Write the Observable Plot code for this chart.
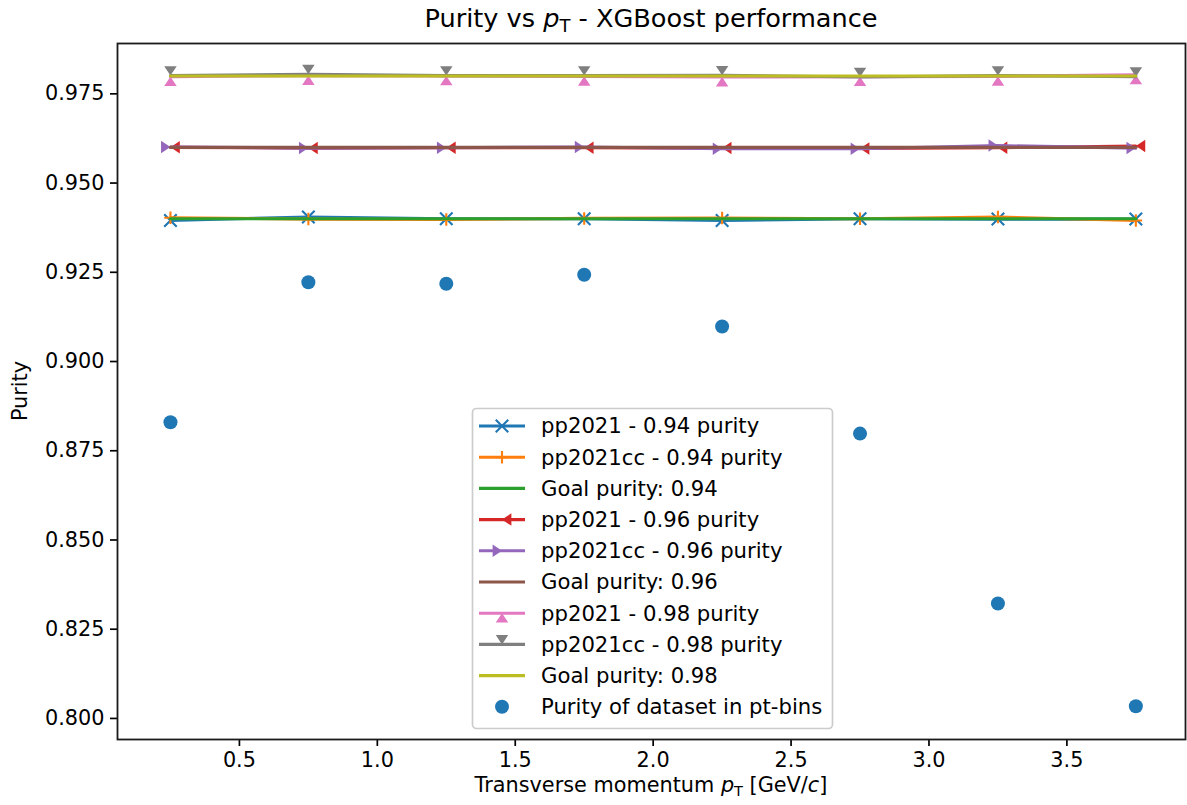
<!DOCTYPE html>
<html>
<head>
<meta charset="utf-8">
<script src="https://cdn.jsdelivr.net/npm/d3@7"></script>
<script src="https://cdn.jsdelivr.net/npm/@observablehq/plot@0.6"></script>
<style>
  html, body { margin: 0; padding: 0; background: #fff; }
  #wrap { position: relative; width: 1187px; height: 805px; font-family: "DejaVu Sans", sans-serif; color: #000; }
  #wrap svg.plot { position: absolute; left: 0; top: 0; }
  .title { position: absolute; left: 117px; width: 1068px; top: 3px; text-align: center; font-size: 25.6px; white-space: nowrap; }
  .xlabel { position: absolute; left: 117px; width: 1068px; top: 773px; text-align: center; font-size: 20.8px; white-space: nowrap; }
  .ylabel { position: absolute; left: 20px; top: 391px; transform: translate(-50%, -50%) rotate(-90deg); font-size: 20.8px; white-space: nowrap; }
  sub { font-size: 0.7em; vertical-align: -0.3em; font-style: normal; }
  #legend { position: absolute; left: 0; top: 0; pointer-events: none; }
</style>
</head>
<body>
<div id="wrap">
  <div class="title">Purity vs <i>p</i><sub>T</sub> - XGBoost performance</div>
  <div class="xlabel">Transverse momentum <i>p</i><sub>T</sub> [GeV/<i>c</i>]</div>
  <div class="ylabel">Purity</div>
</div>
<script>
// ---------- data ----------
const pT = [0.25, 0.75, 1.25, 1.75, 2.25, 2.75, 3.25, 3.75];
const pp2021_094   = [0.9395, 0.9405, 0.9400, 0.9400, 0.9395, 0.9400, 0.9399, 0.9399];
const pp2021cc_094 = [0.9403, 0.9399, 0.9398, 0.9401, 0.9402, 0.9400, 0.9405, 0.9395];
const goal_094     = [0.94, 0.94, 0.94, 0.94, 0.94, 0.94, 0.94, 0.94];
const pp2021_096   = [0.9600, 0.9598, 0.9599, 0.9599, 0.9598, 0.9597, 0.9599, 0.9604];
const pp2021cc_096 = [0.9601, 0.9598, 0.9599, 0.9601, 0.9596, 0.9596, 0.9605, 0.9598];
const goal_096     = [0.96, 0.96, 0.96, 0.96, 0.96, 0.96, 0.96, 0.96];
const pp2021_098   = [0.9798, 0.9801, 0.9800, 0.9799, 0.9797, 0.9798, 0.9799, 0.9803];
const pp2021cc_098 = [0.9801, 0.9805, 0.9801, 0.9801, 0.9802, 0.9797, 0.9801, 0.9798];
const goal_098     = [0.98, 0.98, 0.98, 0.98, 0.98, 0.98, 0.98, 0.98];
const datasetPurity = [0.8830, 0.9222, 0.9218, 0.9243, 0.9098, 0.8798, 0.8322, 0.8034];

const seriesNames = [
  "pp2021 - 0.94 purity", "pp2021cc - 0.94 purity", "Goal purity: 0.94",
  "pp2021 - 0.96 purity", "pp2021cc - 0.96 purity", "Goal purity: 0.96",
  "pp2021 - 0.98 purity", "pp2021cc - 0.98 purity", "Goal purity: 0.98"
];
const scatterName = "Purity of dataset in pt-bins";
const seriesColors = ["#1f77b4", "#ff7f0e", "#2ca02c", "#d62728", "#9467bd", "#8c564b", "#e377c2", "#7f7f7f", "#bcbd22"];
const seriesMarkers = ["x", "plus", null, "caretleft", "caretright", null, "caretup", "caretdown", null];
const seriesValues = [pp2021_094, pp2021cc_094, goal_094, pp2021_096, pp2021cc_096, goal_096, pp2021_098, pp2021cc_098, goal_098];
const xTicks = [0.5, 1.0, 1.5, 2.0, 2.5, 3.0, 3.5];
const yTicks = [0.800, 0.825, 0.850, 0.875, 0.900, 0.925, 0.950, 0.975];

// ---------- custom marker symbols (matplotlib-like) ----------
const rOf = size => Math.sqrt(size / Math.PI);
const symbols = {
  x: { draw(c, s) { const r = rOf(s); c.moveTo(-r, -r); c.lineTo(r, r); c.moveTo(-r, r); c.lineTo(r, -r); } },
  plus: { draw(c, s) { const r = rOf(s); c.moveTo(-r, 0); c.lineTo(r, 0); c.moveTo(0, -r); c.lineTo(0, r); } },
  caretup: { draw(c, s) { const r = rOf(s); c.moveTo(0, 0); c.lineTo(r, 1.5 * r); c.lineTo(-r, 1.5 * r); c.closePath(); } },
  caretdown: { draw(c, s) { const r = rOf(s); c.moveTo(0, 0); c.lineTo(r, -1.5 * r); c.lineTo(-r, -1.5 * r); c.closePath(); } },
  caretleft: { draw(c, s) { const r = rOf(s); c.moveTo(0, 0); c.lineTo(1.5 * r, -r); c.lineTo(1.5 * r, r); c.closePath(); } },
  caretright: { draw(c, s) { const r = rOf(s); c.moveTo(0, 0); c.lineTo(-1.5 * r, -r); c.lineTo(-1.5 * r, r); c.closePath(); } }
};
const strokeMarkers = new Set(["x", "plus"]);

// ---------- build marks ----------
const LW = 3.1, MR = 6.25;
const marks = [];
seriesValues.forEach((vals, i) => {
  const rows = pT.map((x, j) => ({x, y: vals[j]}));
  marks.push(Plot.line(rows, {x: "x", y: "y", stroke: seriesColors[i], strokeWidth: LW}));
  const m = seriesMarkers[i];
  if (m) {
    if (strokeMarkers.has(m)) {
      marks.push(Plot.dot(rows, {x: "x", y: "y", symbol: symbols[m], r: MR, stroke: seriesColors[i], strokeWidth: 2.1, fill: "none"}));
    } else {
      marks.push(Plot.dot(rows, {x: "x", y: "y", symbol: symbols[m], r: MR, fill: seriesColors[i], stroke: "none"}));
    }
  }
});
const scatterRows = pT.map((x, j) => ({x, y: datasetPurity[j]}));
marks.push(Plot.dot(scatterRows, {x: "x", y: "y", r: 7, fill: "#1f77b4", stroke: "none"}));
marks.push(Plot.axisX({ticks: xTicks, tickFormat: d3.format(".1f"), tickSize: 7, tickPadding: 6, label: null, strokeWidth: 1.7}));
marks.push(Plot.axisY({ticks: yTicks, tickFormat: d3.format(".3f"), tickSize: 7, tickPadding: 6, label: null, strokeWidth: 1.7}));
marks.push(Plot.frame({stroke: "#1a1a1a", strokeWidth: 1.8}));

const chart = Plot.plot({
  width: 1187,
  height: 805,
  marginTop: 43,
  marginBottom: 66,
  marginLeft: 117,
  marginRight: 2,
  style: {fontFamily: "DejaVu Sans, sans-serif", fontSize: "20.8px", color: "#000", background: "transparent", overflow: "visible"},
  x: {domain: [0.058, 3.93]},
  y: {domain: [0.7941, 0.9891]},
  marks
});
chart.classList.add("plot");
const wrap = document.getElementById("wrap");
wrap.insertBefore(chart, wrap.firstChild);

// ---------- legend ----------
const NS = "http://www.w3.org/2000/svg";
const leg = document.createElementNS(NS, "svg");
leg.setAttribute("id", "legend");
leg.setAttribute("width", 1187);
leg.setAttribute("height", 805);
const box = {x: 472.5, y: 408.5, w: 360, h: 320};
const rect = document.createElementNS(NS, "rect");
Object.entries({x: box.x, y: box.y, width: box.w, height: box.h, rx: 4, fill: "rgba(255,255,255,0.8)", stroke: "#cccccc", "stroke-width": 1.7}).forEach(([k, v]) => rect.setAttribute(k, v));
leg.appendChild(rect);
const entries = seriesNames.map((n, i) => ({name: n, color: seriesColors[i], marker: seriesMarkers[i], line: true}))
  .concat([{name: scatterName, color: "#1f77b4", marker: "circle", line: false}]);
const pathFor = (m, r) => {
  const p = d3.path();
  symbols[m].draw(p, r * r * Math.PI);
  return p.toString();
};
entries.forEach((e, i) => {
  const cy = 426 + i * 31.2;
  const x0 = 479, x1 = 525, cx = 502;
  if (e.line) {
    const l = document.createElementNS(NS, "line");
    Object.entries({x1: x0, x2: x1, y1: cy, y2: cy, stroke: e.color, "stroke-width": LW}).forEach(([k, v]) => l.setAttribute(k, v));
    leg.appendChild(l);
  }
  if (e.marker === "circle") {
    const c = document.createElementNS(NS, "circle");
    Object.entries({cx, cy, r: 7, fill: e.color}).forEach(([k, v]) => c.setAttribute(k, v));
    leg.appendChild(c);
  } else if (e.marker) {
    const p = document.createElementNS(NS, "path");
    p.setAttribute("d", pathFor(e.marker, MR));
    p.setAttribute("transform", `translate(${cx},${cy})`);
    if (strokeMarkers.has(e.marker)) {
      p.setAttribute("fill", "none"); p.setAttribute("stroke", e.color); p.setAttribute("stroke-width", 2.1);
    } else {
      p.setAttribute("fill", e.color);
    }
    leg.appendChild(p);
  }
  const t = document.createElementNS(NS, "text");
  t.setAttribute("x", 541);
  t.setAttribute("y", cy);
  t.setAttribute("dy", "0.35em");
  t.setAttribute("font-family", "DejaVu Sans, sans-serif");
  t.setAttribute("font-size", "21.2px");
  t.setAttribute("fill", "#000");
  t.textContent = e.name;
  leg.appendChild(t);
});
wrap.appendChild(leg);
</script>
</body>
</html>
